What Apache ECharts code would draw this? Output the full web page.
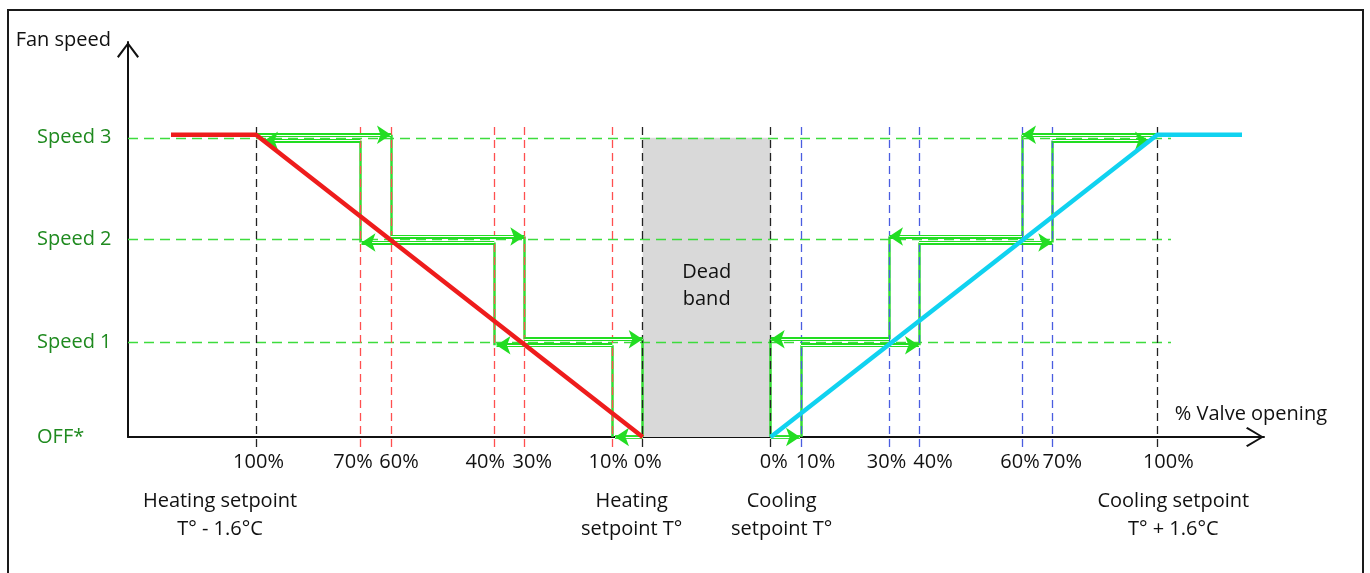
<!DOCTYPE html>
<html><head><meta charset="utf-8">
<script src="https://cdn.jsdelivr.net/npm/echarts@6/dist/echarts.min.js"></script>
<style>
html,body{margin:0;padding:0;background:#fff;overflow:hidden;}
#c{width:1370px;height:573px;position:absolute;left:0;top:0;}
#frame{position:absolute;left:7px;top:9px;width:1357px;height:620px;border:2px solid #1a1a1a;box-sizing:border-box;pointer-events:none;}
</style></head>
<body><div id="c"></div><div id="frame"></div>
<script>
// ---------------- data ----------------
const speedNames = ['OFF*', 'Speed 1', 'Speed 2', 'Speed 3'];
const speedLevels = [0, 0.95, 1.98, 3];
const heatingPct = ['100%', '70%', '60%', '40%', '30%', '10%', '0%'];
const heatingPos = [128, 232.5, 263, 366.3, 396.3, 484.3, 514.7];
const coolingPct = ['0%', '10%', '30%', '40%', '60%', '70%', '100%'];
const coolingPos = [642.7, 673, 761, 791, 894, 924.3, 1029.3];
const heatingCurve = [[43, 3.03], [128, 3.03], [514.7, 0]];
const coolingCurve = [[642.7, 0], [1029.3, 3.03], [1114, 3.03]];
const setpointNames = ['Heating setpoint\nT° - 1.6°C', 'Heating\nsetpoint T°', 'Cooling\nsetpoint T°', 'Cooling setpoint\nT° + 1.6°C'];
const setpointPos = [128, 514.7, 642.7, 1029.3];
const speedGuideEnd = 1043;
const guideTop = 3.15, guideBottom = -0.1;
// hysteresis arrows: [fromX, toX, speed level index, side (+1 upper, -1 lower, 0 on axis)]
const heatingArrows = [
  [128, 263, 3, 1], [232.5, 136, 3, -1],
  [263, 396.3, 2, 1], [366.3, 233.5, 2, -1],
  [396.3, 514.7, 1, 1], [484.3, 368.5, 1, -1],
  [514.7, 487, 0, 0]
];
const coolingArrows = [
  [642.7, 672, 0, 0],
  [761, 642.7, 1, 1], [673, 791, 1, -1],
  [894, 761, 2, 1], [791, 924.3, 2, -1],
  [1029.3, 894, 3, 1], [924.3, 1021, 3, -1]
];
// risers: [x, from level, from side, to level, to side]
const heatingRisers = [
  [232.5, 2, -1, 3, -1], [263, 2, 1, 3, 1],
  [366.3, 1, -1, 2, -1], [396.3, 1, 1, 2, 1],
  [484.3, 0, 0, 1, -1], [514.7, 0, 0, 1, 1]
];
const coolingRisers = [
  [642.7, 0, 0, 1, 1], [673, 0, 0, 1, -1],
  [761, 1, 1, 2, 1], [791, 1, -1, 2, -1],
  [894, 2, 1, 3, 1], [924.3, 2, -1, 3, -1]
];

// ---------------- styling / layout ----------------
const FONT = '"Open Sans", "DejaVu Sans", sans-serif';
const GAP = 0.03;
const GREEN = '#33dd33';
const tickShift = [2.5, -7.5, 8, -9, 8, -4, 5, 3, 14.5, -2.5, 14, -2, 10, 11];
const setpointShift = [-36, -11, 11, 16];
const CHEV_X = 'path://M10,0 L20,16.6 L18.5,18 L10,3.4 L1.5,18 L0,16.6 Z';
const CHEV_Y = 'path://M11,0 L22,14.6 L20.4,16 L11,3.2 L1.6,16 L0,14.6 Z';

const yOf = (lv, side) => speedLevels[lv] + side * GAP;
const pad = d => d >= 0 ? [0, 0, 0, 2 * d] : [0, -2 * d, 0, 0];

const tickPos = heatingPos.concat(coolingPos);
const tickText = heatingPct.concat(coolingPct);
const tickRich = {};
tickPos.forEach((p, i) => { tickRich['t' + i] = {fontSize: 20, fontFamily: FONT, color: '#111', padding: pad(tickShift[i])}; });
const spRich = {};
setpointPos.forEach((p, i) => { spRich['s' + i] = {fontSize: 20, lineHeight: 28, fontFamily: FONT, color: '#111', padding: pad(setpointShift[i])}; });
const findIdx = (arr, v) => arr.findIndex(a => Math.abs(a - v) < 1e-6);

const arrows = heatingArrows.concat(coolingArrows).map(a => [[a[0], yOf(a[2], a[3])], [a[1], yOf(a[2], a[3])]]);
const risers = heatingRisers.concat(coolingRisers).map(r => ({coords: [[r[0], yOf(r[1], r[2])], [r[0], yOf(r[3], r[4])]]}));
const guides = [];
heatingPos.forEach((p, i) => guides.push({coords: [[p, guideBottom], [p, guideTop]], lineStyle: {color: (i === 0 || i === heatingPos.length - 1) ? '#222' : '#ff4f4f'}}));
coolingPos.forEach((p, i) => guides.push({coords: [[p, guideBottom], [p, guideTop]], lineStyle: {color: (i === 0 || i === coolingPos.length - 1) ? '#222' : '#4a5de0'}}));
const speedGuides = speedLevels.slice(1).map(lv => ({coords: [[0, lv], [speedGuideEnd, lv]]}));

const chart = echarts.init(document.getElementById('c'), null, {renderer: 'canvas'});
chart.setOption({
  animation: false,
  backgroundColor: '#fff',
  grid: {left: 128, right: 106, top: 42, bottom: 136, containLabel: false},
  xAxis: [{
    type: 'value', min: 0, max: 1136,
    name: '% Valve opening', nameLocation: 'end', nameGap: 63,
    nameTextStyle: {fontSize: 20, fontFamily: FONT, color: '#111', align: 'right', verticalAlign: 'bottom', lineHeight: 46},
    axisLine: {show: true, onZero: true, lineStyle: {color: '#111', width: 2}, symbol: ['none', CHEV_X], symbolSize: [20, 18], symbolOffset: [0, -9]},
    axisTick: {show: false}, splitLine: {show: false},
    axisLabel: {customValues: tickPos, margin: 15, hideOverlap: false, rich: tickRich,
      formatter: v => { const i = findIdx(tickPos, v); return i < 0 ? '' : '{t' + i + '|' + tickText[i] + '}'; }}
  }, {
    type: 'value', min: 0, max: 1136, position: 'bottom',
    axisLine: {show: false}, axisTick: {show: false}, splitLine: {show: false},
    axisLabel: {customValues: setpointPos, margin: 50, hideOverlap: false, rich: spRich,
      formatter: v => { const i = findIdx(setpointPos, v); return i < 0 ? '' : setpointNames[i].split('\n').map(s => '{s' + i + '|' + s + '}').join('\n'); }}
  }],
  yAxis: {
    type: 'value', min: 0, max: 3.96,
    name: 'Fan speed', nameLocation: 'end', nameGap: 1.5,
    nameTextStyle: {fontSize: 20, fontFamily: FONT, color: '#111', align: 'right', verticalAlign: 'middle', padding: [0, 17, 0, 0]},
    axisLine: {show: true, lineStyle: {color: '#111', width: 2}, symbol: ['none', CHEV_Y], symbolSize: [22, 16], symbolOffset: [0, -8]},
    axisTick: {show: false}, splitLine: {show: false},
    axisLabel: {customValues: speedLevels, align: 'left', margin: 91, fontSize: 20, fontFamily: FONT, color: '#1f8a1f',
      formatter: v => { const i = findIdx(speedLevels, v); return i < 0 ? '' : speedNames[i]; }}
  },
  series: [
    {type: 'line', data: [], z: 1, silent: true,
     markArea: {silent: true, itemStyle: {color: '#d9d9d9'},
       label: {show: true, position: 'inside', formatter: 'Dead\nband', fontSize: 20, lineHeight: 27, fontFamily: FONT, color: '#111', offset: [0, -2]},
       data: [[{coord: [heatingPos[heatingPos.length - 1], 0]}, {coord: [coolingPos[0], speedLevels[3]]}]]}},
    {type: 'lines', coordinateSystem: 'cartesian2d', z: 2, clip: false, silent: true,
     lineStyle: {color: '#3ddc3d', width: 1.3, type: [10, 6], opacity: 1}, data: speedGuides},
    {type: 'lines', coordinateSystem: 'cartesian2d', z: 3, clip: false, silent: true,
     lineStyle: {color: GREEN, width: 2.5, opacity: 1}, data: risers},
    {type: 'lines', coordinateSystem: 'cartesian2d', z: 4, clip: false, silent: true,
     lineStyle: {width: 1.3, type: [8, 5], opacity: 1}, data: guides},
    {type: 'lines', coordinateSystem: 'cartesian2d', z: 5, clip: false, silent: true,
     lineStyle: {color: '#22dd22', width: 3.8, opacity: 1}, data: arrows.map(c => ({coords: c}))},
    {type: 'lines', coordinateSystem: 'cartesian2d', z: 6, clip: false, silent: true,
     lineStyle: {color: '#fff', width: 1.1, opacity: 1}, data: arrows.map(c => ({coords: c}))},
    {type: 'lines', coordinateSystem: 'cartesian2d', z: 7, clip: false, silent: true,
     symbol: ['none', 'arrow'], symbolSize: [6, 14], symbolOffset: [0, '50%'],
     lineStyle: {color: '#22dd22', width: 0.01, opacity: 1}, data: arrows.map(c => ({coords: c}))},
    {type: 'line', z: 8, clip: false, silent: true, symbol: 'none', data: heatingCurve,
     lineStyle: {color: '#ee1c1c', width: 4.5, cap: 'butt'}},
    {type: 'line', z: 8, clip: false, silent: true, symbol: 'none', data: coolingCurve,
     lineStyle: {color: '#10d2f0', width: 4.5, cap: 'butt'}}
  ]
});
</script></body></html>
